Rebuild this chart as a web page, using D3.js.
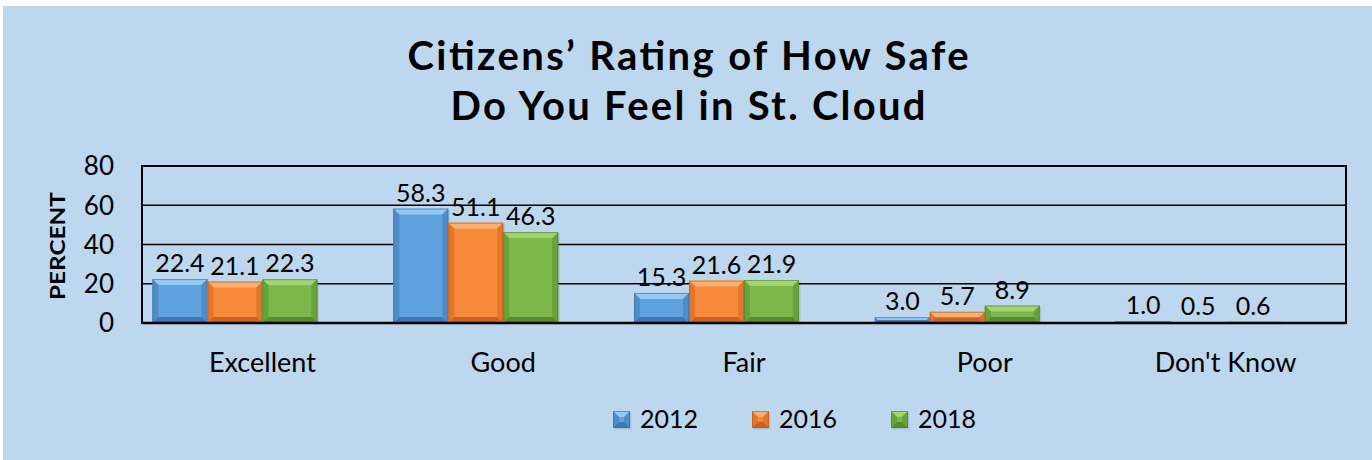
<!DOCTYPE html>
<html><head><meta charset="utf-8">
<script src="https://cdn.jsdelivr.net/npm/d3@7"></script>
<style>
html,body{margin:0;padding:0;background:#fff;}
svg{display:block;}
text{font-family:Lato,"Open Sans",sans-serif;fill:#000;}
</style></head>
<body>
<svg id="chart" width="1372" height="460"></svg>
<script>
const categories = ["Excellent","Good","Fair","Poor","Don't Know"];
const years = ["2012","2016","2018"];
const values2012 = [22.4, 58.3, 15.3, 3.0, 1.0];
const values2016 = [21.1, 51.1, 21.6, 5.7, 0.5];
const values2018 = [22.3, 46.3, 21.9, 8.9, 0.6];
const yTicks = [0, 20, 40, 60, 80];
const titleLines = ["Citizens\u2019 Rating of How Safe", "Do You Feel in St. Cloud"];
const yTitle = "PERCENT";

const series = [values2012, values2016, values2018];
const palette = [
  {main:"#5EA2DF", top:"#96C9F2", side:"#4F8DCA", bottom:"#4079B1", stroke:"#3B6E9F"},
  {main:"#F7893A", top:"#FBB072", side:"#E2762A", bottom:"#C7631F", stroke:"#B65A1C"},
  {main:"#7BB74A", top:"#A4D373", side:"#68A23B", bottom:"#578B30", stroke:"#4F7F2B"}
];

const svg = d3.select("#chart");
svg.append("rect").attr("x",3).attr("y",6).attr("width",1369).attr("height",454).attr("fill","#BDD7EE");

const plot = {left:142, right:1346, top:166, bottom:323};
const x0 = d3.scaleBand().domain(categories).range([plot.left, plot.right]).paddingInner(0).paddingOuter(0);
const slots = ["s0","s1","s2","s3"];
const x1 = d3.scaleBand().domain(slots).range([0, x0.bandwidth()]).paddingInner(0).paddingOuter(0.19);
const y = d3.scaleLinear().domain([0, 80]).range([plot.bottom, plot.top]);

// gridlines
const gAxis = svg.append("g");
gAxis.selectAll("line.grid").data(yTicks.filter(t=>t>0 && t<80)).join("line")
  .attr("x1",plot.left).attr("x2",plot.right)
  .attr("y1",d=>y(d)).attr("y2",d=>y(d))
  .attr("stroke","#000").attr("stroke-width",1.6);

// y tick labels
gAxis.selectAll("text.tick").data(yTicks).join("text")
  .attr("x",114).attr("y",d=>y(d)).attr("dy","0.36em")
  .attr("text-anchor","end").attr("font-size",26).text(d=>d);

// bars with bevel
const bev = 6;
function drawBar(g, x, yTop, w, h, c){
  const b = Math.min(bev, h/2, w/2);
  const xr = x + w, yb = yTop + h;
  g.append("rect").attr("x",x+1.5).attr("y",yTop+1.5).attr("width",w).attr("height",h)
    .attr("fill","#000").attr("opacity",0.1);
  g.append("rect").attr("x",x).attr("y",yTop).attr("width",w).attr("height",h).attr("fill",c.main);
  const poly = pts => g.append("polygon").attr("points",pts.map(p=>p.join(",")).join(" "));
  poly([[x,yTop],[xr,yTop],[xr-b,yTop+b],[x+b,yTop+b]]).attr("fill",c.top);
  poly([[x,yTop],[x+b,yTop+b],[x+b,yb-b],[x,yb]]).attr("fill",c.side);
  poly([[xr,yTop],[xr,yb],[xr-b,yb-b],[xr-b,yTop+b]]).attr("fill",c.side);
  poly([[x,yb],[x+b,yb-b],[xr-b,yb-b],[xr,yb]]).attr("fill",c.bottom);
  g.append("rect").attr("x",x+0.5).attr("y",yTop+0.5).attr("width",Math.max(0,w-1)).attr("height",Math.max(0,h-1))
    .attr("fill","none").attr("stroke",c.stroke).attr("stroke-width",1).attr("opacity",0.6);
}
const gBars = svg.append("g");
categories.forEach((cat, i) => {
  series.forEach((vals, s) => {
    const v = vals[i];
    const bx = x0(cat) + x1(slots[s]);
    const bw = x1.bandwidth();
    const yt = y(v);
    const h = y(0) - yt;
    if (h > 0.3) drawBar(gBars, bx, yt, bw, h, palette[s]);
    gBars.append("text").attr("x", bx + bw/2).attr("y", yt - 7)
      .attr("text-anchor","middle").attr("font-size",25).text(v.toFixed(1));
  });
});

// frame
svg.append("rect").attr("x",plot.left).attr("y",plot.top)
  .attr("width",plot.right-plot.left).attr("height",plot.bottom-plot.top)
  .attr("fill","none").attr("stroke","#000").attr("stroke-width",2);
svg.append("line").attr("x1",plot.left).attr("x2",plot.right).attr("y1",y(0)).attr("y2",y(0))
  .attr("stroke","#000").attr("stroke-width",2.6);

// category labels
svg.append("g").selectAll("text").data(categories).join("text")
  .attr("x",d=>x0(d)+x0.bandwidth()/2).attr("y",372)
  .attr("text-anchor","middle").attr("font-size",27).text(d=>d);

// y title
svg.append("text").attr("transform","translate(65,246) rotate(-90)")
  .attr("text-anchor","middle").attr("font-size",21).attr("font-weight",700)
  .attr("textLength",108).attr("lengthAdjust","spacingAndGlyphs").text(yTitle);

// title
const tWidths = [561, 475];
svg.append("g").selectAll("text").data(titleLines).join("text")
  .attr("x",688).attr("y",(d,i)=>70+i*50)
  .attr("text-anchor","middle").attr("font-size",40).attr("font-weight",700)
  .attr("textLength",(d,i)=>tWidths[i]).attr("lengthAdjust","spacing").text(d=>d);

// legend
const legendX = [613, 752, 891];
const lg = svg.append("g");
years.forEach((yr, s) => {
  const gx = legendX[s];
  drawBar(lg, gx, 411, 17, 17, palette[s]);
  lg.append("text").attr("x", gx + 27).attr("y", 428).attr("font-size",25).text(yr);
});
</script>
</body></html>
